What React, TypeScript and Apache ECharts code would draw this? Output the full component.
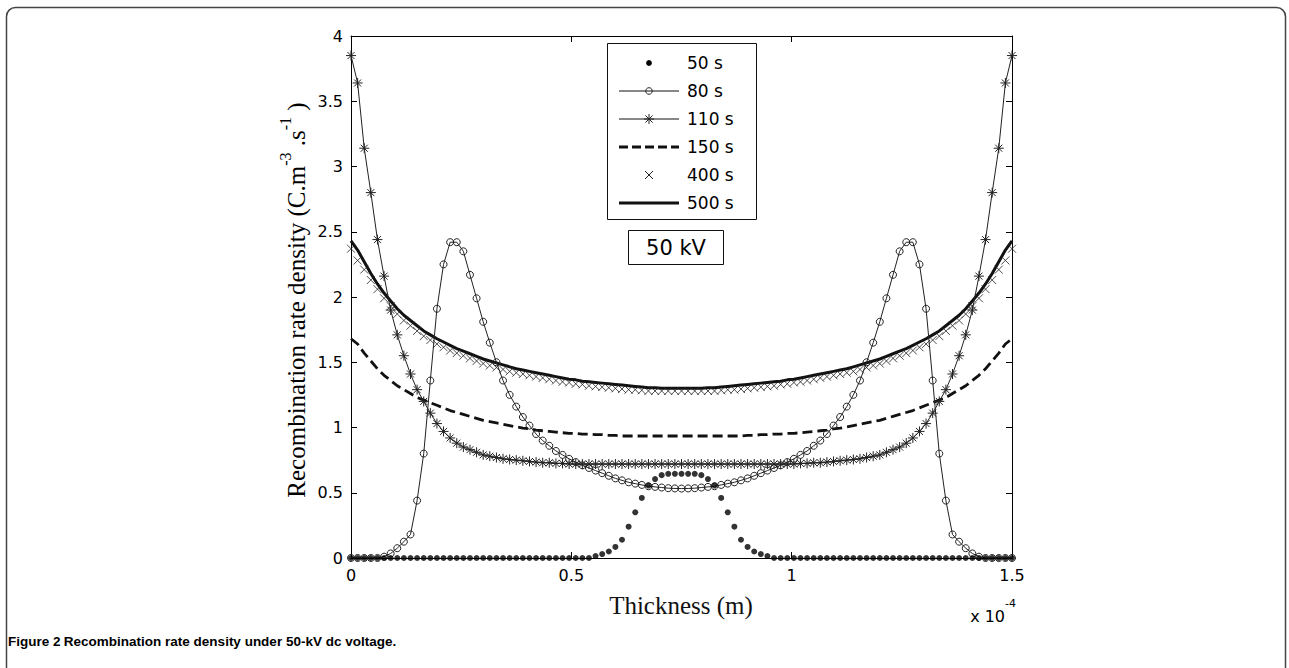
import React, { useEffect, useRef } from "react";
import * as echarts from "echarts";

// Thickness (x 10^-4 m)
const thickness = [
  0, 0.015, 0.03, 0.045, 0.06, 0.075, 0.09, 0.105, 0.12, 0.135,
  0.15, 0.165, 0.18, 0.195, 0.21, 0.225, 0.24, 0.255, 0.27, 0.285,
  0.3, 0.315, 0.33, 0.345, 0.36, 0.375, 0.39, 0.405, 0.42, 0.435,
  0.45, 0.465, 0.48, 0.495, 0.51, 0.525, 0.54, 0.555, 0.57, 0.585,
  0.6, 0.615, 0.63, 0.645, 0.66, 0.675, 0.69, 0.705, 0.72, 0.735,
  0.75, 0.765, 0.78, 0.795, 0.81, 0.825, 0.84, 0.855, 0.87, 0.885,
  0.9, 0.915, 0.93, 0.945, 0.96, 0.975, 0.99, 1.005, 1.02, 1.035,
  1.05, 1.065, 1.08, 1.095, 1.11, 1.125, 1.14, 1.155, 1.17, 1.185,
  1.2, 1.215, 1.23, 1.245, 1.26, 1.275, 1.29, 1.305, 1.32, 1.335,
  1.35, 1.365, 1.38, 1.395, 1.41, 1.425, 1.44, 1.455, 1.47, 1.485,
  1.5,
];

const rate50s = [
  0, 0, 0, 0, 0, 0, 0, 0, 0, 0,
  0, 0, 0, 0, 0, 0, 0, 0, 0, 0,
  0, 0, 0, 0, 0, 0, 0, 0, 0, 0,
  0, 0, 0, 0, 0, 0, 0, 0.015, 0.03, 0.05,
  0.085, 0.14, 0.24, 0.35, 0.46, 0.555, 0.605, 0.635, 0.645, 0.645,
  0.645, 0.645, 0.645, 0.635, 0.605, 0.555, 0.46, 0.35, 0.24, 0.14,
  0.085, 0.05, 0.03, 0.015, 0, 0, 0, 0, 0, 0,
  0, 0, 0, 0, 0, 0, 0, 0, 0, 0,
  0, 0, 0, 0, 0, 0, 0, 0, 0, 0,
  0, 0, 0, 0, 0, 0, 0, 0, 0, 0,
  0,
];

const rate80s = [
  0, 0, 0, 0, 0, 0.01, 0.035, 0.075, 0.125, 0.18,
  0.44, 0.8, 1.36, 1.91, 2.25, 2.42, 2.42, 2.35, 2.17, 1.99,
  1.81, 1.65, 1.5, 1.36, 1.25, 1.16, 1.08, 1.015, 0.95, 0.9,
  0.86, 0.82, 0.79, 0.76, 0.735, 0.71, 0.69, 0.67, 0.65, 0.63,
  0.61, 0.595, 0.58, 0.57, 0.56, 0.55, 0.545, 0.54, 0.535, 0.533,
  0.532, 0.533, 0.535, 0.54, 0.545, 0.55, 0.56, 0.57, 0.58, 0.595,
  0.61, 0.63, 0.65, 0.67, 0.69, 0.71, 0.735, 0.76, 0.79, 0.82,
  0.86, 0.9, 0.95, 1.015, 1.08, 1.16, 1.25, 1.36, 1.5, 1.65,
  1.81, 1.99, 2.17, 2.35, 2.42, 2.42, 2.25, 1.91, 1.36, 0.8,
  0.44, 0.18, 0.125, 0.075, 0.035, 0.01, 0, 0, 0, 0,
  0,
];

const rate110s = [
  3.85, 3.64, 3.14, 2.8, 2.44, 2.16, 1.9, 1.71, 1.55, 1.41,
  1.29, 1.2, 1.11, 1.03, 0.97, 0.92, 0.88, 0.85, 0.83, 0.81,
  0.79, 0.78, 0.77, 0.76, 0.755, 0.75, 0.745, 0.74, 0.735, 0.73,
  0.73, 0.725, 0.725, 0.72, 0.72, 0.72, 0.72, 0.72, 0.72, 0.72,
  0.72, 0.72, 0.72, 0.72, 0.72, 0.72, 0.72, 0.72, 0.72, 0.72,
  0.72, 0.72, 0.72, 0.72, 0.72, 0.72, 0.72, 0.72, 0.72, 0.72,
  0.72, 0.72, 0.72, 0.72, 0.72, 0.72, 0.72, 0.72, 0.725, 0.725,
  0.73, 0.73, 0.735, 0.74, 0.745, 0.75, 0.755, 0.76, 0.77, 0.78,
  0.79, 0.81, 0.83, 0.85, 0.88, 0.92, 0.97, 1.03, 1.11, 1.2,
  1.29, 1.41, 1.55, 1.71, 1.9, 2.16, 2.44, 2.8, 3.14, 3.64,
  3.85,
];

const rate150s = [
  1.68, 1.64, 1.57, 1.51, 1.45, 1.4, 1.36, 1.32, 1.29, 1.26,
  1.23, 1.21, 1.19, 1.17, 1.15, 1.13, 1.115, 1.1, 1.085, 1.07,
  1.055, 1.045, 1.035, 1.025, 1.015, 1.005, 0.995, 0.99, 0.98, 0.975,
  0.97, 0.965, 0.96, 0.955, 0.955, 0.95, 0.95, 0.945, 0.945, 0.94,
  0.94, 0.935, 0.935, 0.935, 0.935, 0.935, 0.935, 0.935, 0.935, 0.935,
  0.935, 0.935, 0.935, 0.935, 0.935, 0.935, 0.935, 0.935, 0.935, 0.935,
  0.94, 0.94, 0.945, 0.945, 0.95, 0.95, 0.955, 0.955, 0.96, 0.965,
  0.97, 0.975, 0.98, 0.99, 0.995, 1.005, 1.015, 1.025, 1.035, 1.045,
  1.055, 1.07, 1.085, 1.1, 1.115, 1.13, 1.15, 1.17, 1.19, 1.21,
  1.23, 1.26, 1.29, 1.32, 1.36, 1.4, 1.45, 1.51, 1.57, 1.64,
  1.68,
];

const rate400s = [
  2.37, 2.28, 2.21, 2.13, 2.06, 1.99, 1.93, 1.87, 1.82, 1.78,
  1.74, 1.7, 1.67, 1.64, 1.615, 1.59, 1.57, 1.55, 1.53, 1.51,
  1.49, 1.475, 1.46, 1.445, 1.43, 1.42, 1.41, 1.4, 1.39, 1.38,
  1.37, 1.36, 1.35, 1.345, 1.335, 1.33, 1.32, 1.315, 1.31, 1.305,
  1.3, 1.295, 1.29, 1.29, 1.285, 1.28, 1.28, 1.28, 1.28, 1.28,
  1.28, 1.28, 1.28, 1.28, 1.28, 1.28, 1.285, 1.29, 1.29, 1.295,
  1.3, 1.305, 1.31, 1.315, 1.32, 1.33, 1.335, 1.345, 1.35, 1.36,
  1.37, 1.38, 1.39, 1.4, 1.41, 1.42, 1.43, 1.445, 1.46, 1.475,
  1.49, 1.51, 1.53, 1.55, 1.57, 1.59, 1.615, 1.64, 1.67, 1.7,
  1.74, 1.78, 1.82, 1.87, 1.93, 1.99, 2.06, 2.13, 2.21, 2.28,
  2.37,
];

const rate500s = [
  2.43, 2.36, 2.27, 2.18, 2.1, 2.03, 1.97, 1.91, 1.86, 1.82,
  1.78, 1.74, 1.71, 1.68, 1.655, 1.63, 1.605, 1.585, 1.565, 1.545,
  1.525, 1.51, 1.495, 1.48, 1.465, 1.45, 1.44, 1.43, 1.42, 1.41,
  1.4, 1.39, 1.38, 1.37, 1.365, 1.355, 1.35, 1.345, 1.34, 1.335,
  1.33, 1.325, 1.32, 1.315, 1.31, 1.305, 1.305, 1.3, 1.3, 1.3,
  1.3, 1.3, 1.3, 1.3, 1.305, 1.305, 1.31, 1.315, 1.32, 1.325,
  1.33, 1.335, 1.34, 1.345, 1.35, 1.355, 1.365, 1.37, 1.38, 1.39,
  1.4, 1.41, 1.42, 1.43, 1.44, 1.45, 1.465, 1.48, 1.495, 1.51,
  1.525, 1.545, 1.565, 1.585, 1.605, 1.63, 1.655, 1.68, 1.71, 1.74,
  1.78, 1.82, 1.86, 1.91, 1.97, 2.03, 2.1, 2.18, 2.27, 2.36,
  2.43,
];

const seriesNames = ["50 s", "80 s", "110 s", "150 s", "400 s", "500 s"];
const xTicks = { min: 0, max: 1.5, interval: 0.5 };
const yTicks = { min: 0, max: 4, interval: 0.5 };

const STAR = "path://M0,-10L0,10M-10,0L10,0M-7,-7L7,7M-7,7L7,-7";
const CROSS = "path://M-10,-10L10,10M-10,10L10,-10";

const pairs = (ys: number[]) => thickness.map((x, i) => [x, ys[i]]);

// Legend drawn as graphic (box, icon, text) — layout constants only
const LEG = { x: 607.5, y: 43.5, w: 149, h: 176, iconL: 619, iconR: 679, textX: 687, row0: 63, rowGap: 28 };

function legendGraphics() {
  const els: any[] = [
    { type: "rect", shape: { x: LEG.x, y: LEG.y, width: LEG.w, height: LEG.h }, style: { fill: "#fff", stroke: "#111", lineWidth: 1 }, z: 50 },
  ];
  const cx = (LEG.iconL + LEG.iconR) / 2;
  seriesNames.forEach((name, i) => {
    const y = LEG.row0 + i * LEG.rowGap;
    const line = (w: number, dash?: number[]) => ({
      type: "line", z: 51, shape: { x1: LEG.iconL, y1: y, x2: LEG.iconR, y2: y },
      style: { stroke: "#111", lineWidth: w, lineDash: dash },
    });
    if (i === 0) {
      els.push({ type: "circle", z: 52, shape: { cx, cy: y, r: 2.9 }, style: { fill: "#000" } });
    } else if (i === 1) {
      els.push(line(1));
      els.push({ type: "circle", z: 52, shape: { cx, cy: y, r: 3.3 }, style: { fill: "none", stroke: "#222", lineWidth: 1 } });
    } else if (i === 2) {
      els.push(line(1));
      const r = 5, d = 3.6;
      [[0, -r, 0, r], [-r, 0, r, 0], [-d, -d, d, d], [-d, d, d, -d]].forEach(([a, b, c, e]) =>
        els.push({ type: "line", z: 52, shape: { x1: cx + a, y1: y + b, x2: cx + c, y2: y + e }, style: { stroke: "#222", lineWidth: 1 } })
      );
    } else if (i === 3) {
      els.push(line(2.8, [9, 4]));
    } else if (i === 4) {
      const r = 4;
      els.push({ type: "line", z: 52, shape: { x1: cx - r, y1: y - r, x2: cx + r, y2: y + r }, style: { stroke: "#222", lineWidth: 1 } });
      els.push({ type: "line", z: 52, shape: { x1: cx - r, y1: y + r, x2: cx + r, y2: y - r }, style: { stroke: "#222", lineWidth: 1 } });
    } else {
      els.push(line(3));
    }
    els.push({
      type: "text", z: 52, x: LEG.textX, y,
      style: { text: name, align: "left", verticalAlign: "middle", fontFamily: "DejaVu Sans", fontSize: 17, fill: "#000" },
    });
  });
  return els;
}

export default function App() {
  const ref = useRef<HTMLDivElement>(null);
  useEffect(() => {
    if (!ref.current) return;
    const chart = echarts.init(ref.current, null, { renderer: "svg" });
    const axisLine = { show: true, onZero: false, lineStyle: { color: "#000", width: 1 } };
    const tick = { show: true, inside: true, length: 6, lineStyle: { color: "#000", width: 1 } };
    const tickFont = { fontFamily: "DejaVu Sans", fontSize: 16, color: "#000" };
    chart.setOption({
      animation: false,
      backgroundColor: "#fff",
      grid: { left: 351, top: 36, width: 661, height: 522, show: false },
      xAxis: [
        { type: "value", ...xTicks, position: "bottom", axisLine, axisTick: tick, axisLabel: { ...tickFont, margin: 9 }, splitLine: { show: false } },
        { type: "value", ...xTicks, position: "top", axisLine, axisTick: tick, axisLabel: { show: false }, splitLine: { show: false } },
      ],
      yAxis: [
        { type: "value", ...yTicks, position: "left", axisLine, axisTick: tick, axisLabel: { ...tickFont, margin: 8 }, splitLine: { show: false } },
        { type: "value", ...yTicks, position: "right", axisLine, axisTick: tick, axisLabel: { show: false }, splitLine: { show: false } },
      ],
      series: [
        {
          name: seriesNames[5], type: "line", data: pairs(rate500s), symbol: "none",
          lineStyle: { color: "#111", width: 3 }, itemStyle: { color: "#111" }, z: 2,
        },
        {
          name: seriesNames[4], type: "scatter", data: pairs(rate400s), symbol: CROSS, symbolSize: 8,
          itemStyle: { color: "rgba(0,0,0,0)", borderColor: "#222", borderWidth: 1 }, z: 3,
        },
        {
          name: seriesNames[3], type: "line", data: pairs(rate150s), symbol: "none",
          lineStyle: { color: "#111", width: 2.8, type: [10, 5] }, itemStyle: { color: "#111" }, z: 2,
        },
        {
          name: seriesNames[2], type: "line", data: pairs(rate110s), symbol: STAR, symbolSize: 10, showAllSymbol: true,
          lineStyle: { color: "#222", width: 1 }, itemStyle: { color: "rgba(0,0,0,0)", borderColor: "#222", borderWidth: 1 }, z: 4,
        },
        {
          name: seriesNames[1], type: "line", data: pairs(rate80s), symbol: "circle", symbolSize: 7, showAllSymbol: true,
          lineStyle: { color: "#222", width: 1 }, itemStyle: { color: "rgba(0,0,0,0)", borderColor: "#222", borderWidth: 1 }, z: 4,
        },
        {
          name: seriesNames[0], type: "scatter", data: pairs(rate50s), symbol: "circle", symbolSize: 6,
          itemStyle: { color: "#000" }, z: 5,
        },
      ],
      graphic: [
        {
          type: "rect", silent: true, z: -10,
          shape: { x: 6.5, y: 7.5, width: 1279, height: 720, r: 9 },
          style: { fill: "none", stroke: "#444", lineWidth: 1.5 },
        },
        {
          type: "text", x: 293, y: 300, rotation: Math.PI / 2,
          style: {
            text: "{n|Recombination rate density (C.m}{s|-3}{n| .s}{s|-1}{n| )}",
            align: "center", verticalAlign: "middle",
            rich: {
              n: { fontFamily: "Liberation Serif", fontSize: 25, color: "#111", verticalAlign: "bottom", lineHeight: 32 },
              s: { fontFamily: "Liberation Serif", fontSize: 16, color: "#111", verticalAlign: "top", lineHeight: 18 },
            },
          },
        },
        {
          type: "text", x: 681, y: 605,
          style: { text: "Thickness (m)", align: "center", verticalAlign: "middle", fontFamily: "Liberation Serif", fontSize: 25, fill: "#111" },
        },
        {
          type: "text", x: 1016, y: 611,
          style: {
            text: "{a|x 10}{b|-4}", align: "right", verticalAlign: "middle",
            rich: {
              a: { fontFamily: "DejaVu Sans", fontSize: 16, color: "#000", verticalAlign: "bottom", lineHeight: 26 },
              b: { fontFamily: "DejaVu Sans", fontSize: 11, color: "#000", verticalAlign: "top", lineHeight: 14 },
            },
          },
        },
        {
          type: "rect", shape: { x: 628.5, y: 230.5, width: 95, height: 34 },
          style: { fill: "#fff", stroke: "#111", lineWidth: 1 },
        },
        {
          type: "text", x: 676, y: 248,
          style: { text: "50 kV", align: "center", verticalAlign: "middle", fontFamily: "DejaVu Sans", fontSize: 21, fill: "#000" },
        },
        {
          type: "text", x: 8, y: 641,
          style: {
            text: "{b|Figure 2} {n|Recombination rate density under 50-kV dc voltage.}",
            align: "left", verticalAlign: "middle",
            rich: {
              b: { fontFamily: "Liberation Sans", fontSize: 13.5, fontWeight: "bold", color: "#1a1a1a" },
              n: { fontFamily: "Liberation Sans", fontSize: 13.5, fontWeight: "bold", color: "#1a1a1a" },
            },
          },
        },
        ...legendGraphics(),
      ],
    });
    return () => chart.dispose();
  }, []);
  return (
    <div
      ref={ref}
      style={{ position: "fixed", left: 0, top: 0, width: 1289, height: 668, background: "#fff" }}
    />
  );
}
